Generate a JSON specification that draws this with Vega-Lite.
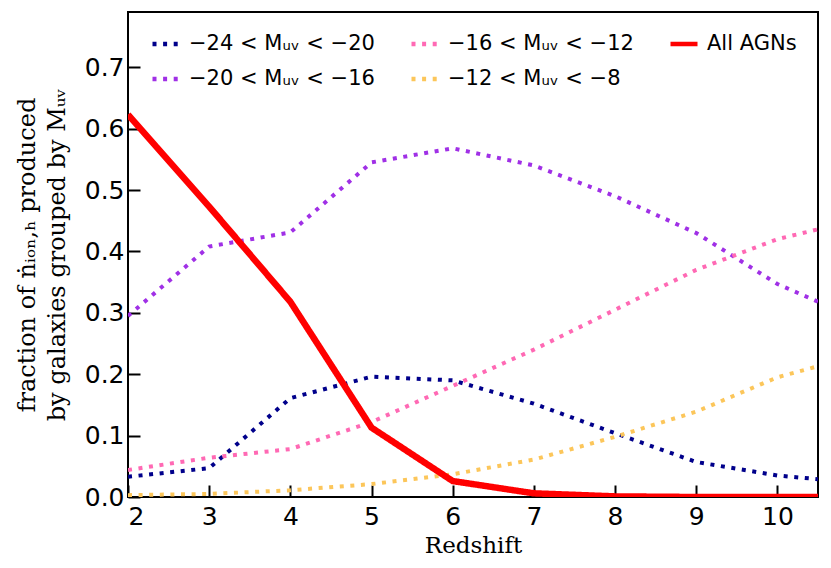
{
  "$schema": "https://vega.github.io/schema/vega-lite/v6.json",
  "width": 690,
  "height": 485,
  "autosize": "none",
  "padding": {"left": 128, "top": 12, "right": 13, "bottom": 71},
  "background": "white",
  "data": {
    "values": [
      {"z": 2, "frac": 0.033, "series": "−24 < Mᵤᵥ < −20"},
      {"z": 3, "frac": 0.047, "series": "−24 < Mᵤᵥ < −20"},
      {"z": 4, "frac": 0.161, "series": "−24 < Mᵤᵥ < −20"},
      {"z": 5, "frac": 0.196, "series": "−24 < Mᵤᵥ < −20"},
      {"z": 6, "frac": 0.190, "series": "−24 < Mᵤᵥ < −20"},
      {"z": 7, "frac": 0.152, "series": "−24 < Mᵤᵥ < −20"},
      {"z": 8, "frac": 0.104, "series": "−24 < Mᵤᵥ < −20"},
      {"z": 9, "frac": 0.057, "series": "−24 < Mᵤᵥ < −20"},
      {"z": 10, "frac": 0.035, "series": "−24 < Mᵤᵥ < −20"},
      {"z": 10.5, "frac": 0.029, "series": "−24 < Mᵤᵥ < −20"},

      {"z": 2, "frac": 0.295, "series": "−20 < Mᵤᵥ < −16"},
      {"z": 3, "frac": 0.408, "series": "−20 < Mᵤᵥ < −16"},
      {"z": 4, "frac": 0.431, "series": "−20 < Mᵤᵥ < −16"},
      {"z": 5, "frac": 0.545, "series": "−20 < Mᵤᵥ < −16"},
      {"z": 6, "frac": 0.568, "series": "−20 < Mᵤᵥ < −16"},
      {"z": 7, "frac": 0.540, "series": "−20 < Mᵤᵥ < −16"},
      {"z": 8, "frac": 0.490, "series": "−20 < Mᵤᵥ < −16"},
      {"z": 9, "frac": 0.430, "series": "−20 < Mᵤᵥ < −16"},
      {"z": 10, "frac": 0.347, "series": "−20 < Mᵤᵥ < −16"},
      {"z": 10.5, "frac": 0.318, "series": "−20 < Mᵤᵥ < −16"},

      {"z": 2, "frac": 0.044, "series": "−16 < Mᵤᵥ < −12"},
      {"z": 3, "frac": 0.064, "series": "−16 < Mᵤᵥ < −12"},
      {"z": 4, "frac": 0.078, "series": "−16 < Mᵤᵥ < −12"},
      {"z": 5, "frac": 0.122, "series": "−16 < Mᵤᵥ < −12"},
      {"z": 6, "frac": 0.181, "series": "−16 < Mᵤᵥ < −12"},
      {"z": 7, "frac": 0.240, "series": "−16 < Mᵤᵥ < −12"},
      {"z": 8, "frac": 0.305, "series": "−16 < Mᵤᵥ < −12"},
      {"z": 9, "frac": 0.370, "series": "−16 < Mᵤᵥ < −12"},
      {"z": 10, "frac": 0.420, "series": "−16 < Mᵤᵥ < −12"},
      {"z": 10.5, "frac": 0.436, "series": "−16 < Mᵤᵥ < −12"},

      {"z": 2, "frac": 0.003, "series": "−12 < Mᵤᵥ < −8"},
      {"z": 3, "frac": 0.005, "series": "−12 < Mᵤᵥ < −8"},
      {"z": 4, "frac": 0.011, "series": "−12 < Mᵤᵥ < −8"},
      {"z": 5, "frac": 0.021, "series": "−12 < Mᵤᵥ < −8"},
      {"z": 6, "frac": 0.037, "series": "−12 < Mᵤᵥ < −8"},
      {"z": 7, "frac": 0.061, "series": "−12 < Mᵤᵥ < −8"},
      {"z": 8, "frac": 0.098, "series": "−12 < Mᵤᵥ < −8"},
      {"z": 9, "frac": 0.139, "series": "−12 < Mᵤᵥ < −8"},
      {"z": 10, "frac": 0.195, "series": "−12 < Mᵤᵥ < −8"},
      {"z": 10.5, "frac": 0.213, "series": "−12 < Mᵤᵥ < −8"},

      {"z": 2, "frac": 0.623, "series": "All AGNs"},
      {"z": 3, "frac": 0.473, "series": "All AGNs"},
      {"z": 4, "frac": 0.318, "series": "All AGNs"},
      {"z": 5, "frac": 0.113, "series": "All AGNs"},
      {"z": 6, "frac": 0.026, "series": "All AGNs"},
      {"z": 7, "frac": 0.006, "series": "All AGNs"},
      {"z": 8, "frac": 0.001, "series": "All AGNs"},
      {"z": 9, "frac": 0.0, "series": "All AGNs"},
      {"z": 10, "frac": 0.0, "series": "All AGNs"},
      {"z": 10.5, "frac": 0.0, "series": "All AGNs"}
    ]
  },
  "mark": {"type": "line", "strokeCap": "butt", "clip": true},
  "encoding": {
    "x": {
      "field": "z",
      "type": "quantitative",
      "scale": {"domain": [2, 10.5], "nice": false, "zero": false},
      "axis": {
        "title": "Redshift",
        "values": [2, 3, 4, 5, 6, 7, 8, 9, 10],
        "format": "d",
        "labelPadding": 19,
        "titleFont": "DejaVu Serif",
        "titleFontSize": 23,
        "titlePadding": 5
      }
    },
    "y": {
      "field": "frac",
      "type": "quantitative",
      "scale": {"domain": [0, 0.79], "nice": false},
      "axis": {
        "title": ["fraction of ṅᵢₒₙ,ₕ produced", "by galaxies grouped by Mᵤᵥ"],
        "values": [0, 0.1, 0.2, 0.3, 0.4, 0.5, 0.6, 0.7],
        "format": ".1f",
        "labelPadding": 16,
        "titleFont": "DejaVu Serif",
        "titleFontSize": 24,
        "titleLineHeight": 30,
        "titlePadding": 15
      }
    },
    "color": {
      "field": "series",
      "type": "nominal",
      "scale": {
        "domain": ["−24 < Mᵤᵥ < −20", "−20 < Mᵤᵥ < −16", "−16 < Mᵤᵥ < −12", "−12 < Mᵤᵥ < −8", "All AGNs"],
        "range": ["#00008b", "#a030e6", "#ff69b4", "#fcc65a", "#ff0000"]
      },
      "legend": {
        "title": null,
        "orient": "none",
        "legendX": 22,
        "legendY": 16,
        "columns": 3,
        "columnPadding": 27,
        "rowPadding": 9,
        "symbolType": "stroke",
        "symbolSize": 729,
        "symbolStrokeWidth": 4.5,
        "labelFont": "DejaVu Sans",
        "labelFontSize": 21,
        "labelLimit": 400,
        "labelOffset": 7
      }
    },
    "strokeDash": {
      "field": "series",
      "type": "nominal",
      "scale": {
        "domain": ["−24 < Mᵤᵥ < −20", "−20 < Mᵤᵥ < −16", "−16 < Mᵤᵥ < −12", "−12 < Mᵤᵥ < −8", "All AGNs"],
        "range": [[4, 6.6], [4, 6.6], [4, 6.6], [4, 6.6], [1, 0]]
      }
    },
    "strokeWidth": {
      "condition": {"test": "datum.series === 'All AGNs'", "value": 6.5},
      "value": 4
    }
  },
  "config": {
    "view": {"stroke": "black", "strokeWidth": 2},
    "axis": {
      "grid": false,
      "domain": false,
      "ticks": true,
      "tickSize": -12,
      "tickWidth": 2,
      "tickColor": "black",
      "labelFont": "DejaVu Sans",
      "labelFontSize": 25,
      "labelColor": "black",
      "titleFontWeight": "normal",
      "titleColor": "black"
    }
  }
}
